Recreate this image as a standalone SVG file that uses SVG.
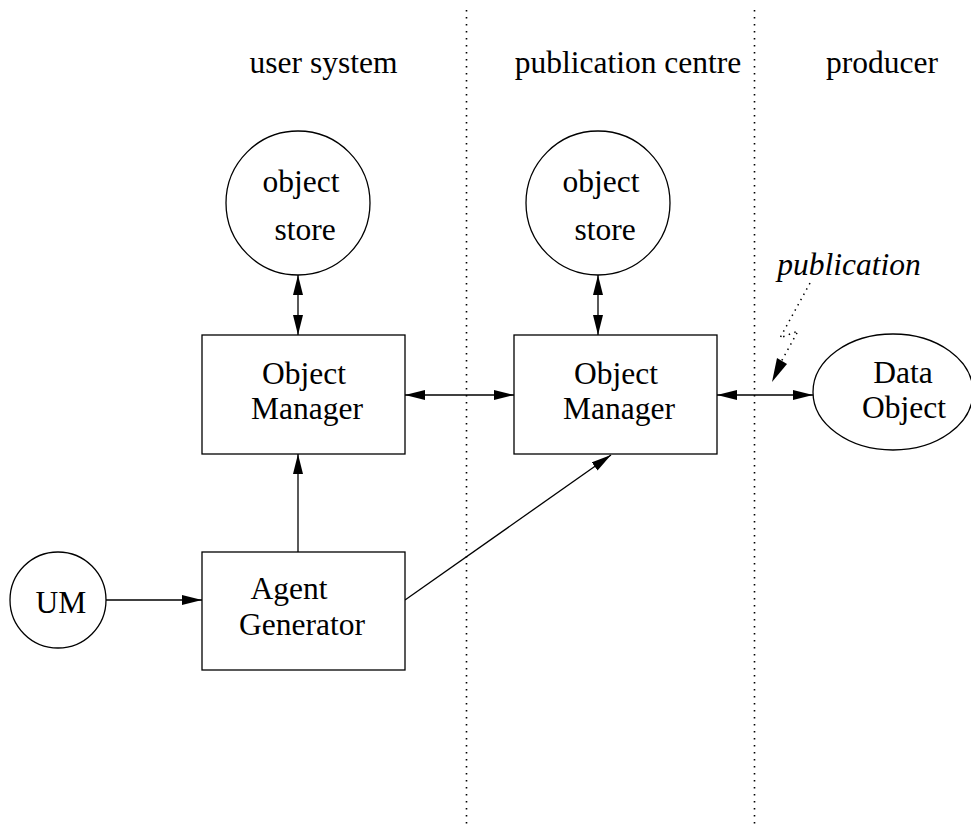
<svg xmlns="http://www.w3.org/2000/svg" width="971" height="828" viewBox="0 0 971 828">
  <style>
    .shape { fill: #fff; stroke: #000; stroke-width: 1.3; }
    .edge { fill: none; stroke: #000; stroke-width: 1.3; }
    .divider { fill: none; stroke: #000; stroke-width: 1.6; stroke-dasharray: 1.6 5.4; }
    .hint { fill: none; stroke: #000; stroke-width: 1.5; stroke-dasharray: 1.5 4.5; }
    text { font-family: "Liberation Serif", "Times New Roman", serif; font-size: 31.5px; fill: #000; text-anchor: middle; }
    .italic { font-style: italic; }
  </style>
  <defs>
    <marker id="head" viewBox="0 0 20 10" refX="20" refY="5" markerWidth="20" markerHeight="10" markerUnits="userSpaceOnUse" orient="auto-start-reverse">
      <path d="M0,0 L20,5 L0,10 Z" fill="#000"/>
    </marker>
  </defs>

  <!-- column dividers -->
  <g id="dividers">
    <line class="divider" x1="466.5" y1="10" x2="466.5" y2="828"/>
    <line class="divider" x1="754.5" y1="10" x2="754.5" y2="828"/>
  </g>

  <!-- column headings -->
  <g id="headings">
    <text x="323.5" y="73">user system</text>
    <text x="628" y="73">publication centre</text>
    <text x="882" y="73">producer</text>
  </g>

  <!-- connectors -->
  <g id="connectors">
    <line class="edge" x1="298" y1="275" x2="298" y2="335" marker-start="url(#head)" marker-end="url(#head)"/>
    <line class="edge" x1="598" y1="275" x2="598" y2="335" marker-start="url(#head)" marker-end="url(#head)"/>
    <line class="edge" x1="405" y1="395" x2="514" y2="395" marker-start="url(#head)" marker-end="url(#head)"/>
    <line class="edge" x1="717" y1="395" x2="813" y2="395" marker-start="url(#head)" marker-end="url(#head)"/>
    <line class="edge" x1="298" y1="552" x2="298" y2="454" marker-end="url(#head)"/>
    <line class="edge" x1="106" y1="600" x2="202" y2="600" marker-end="url(#head)"/>
    <line class="edge" x1="405" y1="600" x2="611" y2="455" marker-end="url(#head)"/>
    <!-- publication hint -->
    <polyline class="hint" points="810,283 780,338 798,331 781,362"/>
    <path d="M772,382 L777,358 L787,364 Z" fill="#000"/>
    <text class="italic" x="849" y="275">publication</text>
  </g>

  <g id="store-user">
    <circle class="shape" cx="298" cy="203" r="72"/>
    <text x="301" y="192">object</text>
    <text x="305" y="240">store</text>
  </g>

  <g id="store-centre">
    <circle class="shape" cx="598" cy="203" r="72"/>
    <text x="601" y="192">object</text>
    <text x="605" y="240">store</text>
  </g>

  <g id="manager-user">
    <rect class="shape" x="202" y="335" width="203" height="119"/>
    <text x="304" y="384">Object</text>
    <text x="307" y="419">Manager</text>
  </g>

  <g id="manager-centre">
    <rect class="shape" x="514" y="335" width="203" height="119"/>
    <text x="616" y="384">Object</text>
    <text x="619" y="419">Manager</text>
  </g>

  <g id="agent-generator">
    <rect class="shape" x="202" y="552" width="203" height="118"/>
    <text x="289" y="599">Agent</text>
    <text x="302" y="635">Generator</text>
  </g>

  <g id="um">
    <circle class="shape" cx="58" cy="600" r="48"/>
    <text x="61" y="613">UM</text>
  </g>

  <g id="data-object">
    <ellipse class="shape" cx="893" cy="392" rx="80" ry="58"/>
    <text x="903" y="383">Data</text>
    <text x="904" y="418">Object</text>
  </g>
</svg>
